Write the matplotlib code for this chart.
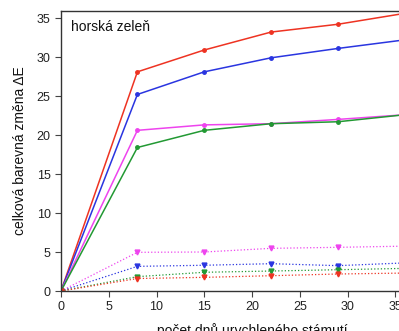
import matplotlib
matplotlib.use("Agg")
import matplotlib.pyplot as plt

plt.rcParams['font.family'] = ['Liberation Sans', 'DejaVu Sans']

# days of accelerated ageing
days = [0, 8, 15, 22, 29, 36]

# total colour change dE (solid lines, circles)
red_solid = [0, 28.1, 30.9, 33.2, 34.2, 35.6]
blue_solid = [0, 25.2, 28.1, 29.9, 31.1, 32.2]
magenta_solid = [0, 20.6, 21.3, 21.45, 22.0, 22.6]
green_solid = [0, 18.4, 20.6, 21.45, 21.7, 22.6]

# dotted lines, down triangles
magenta_dot = [0, 4.96, 5.0, 5.47, 5.6, 5.75]
blue_dot = [0, 3.16, 3.3, 3.5, 3.25, 3.6]
green_dot = [0, 1.84, 2.4, 2.56, 2.73, 2.9]
red_dot = [0, 1.6, 1.75, 1.96, 2.18, 2.3]

colors = {'red': '#ee3322', 'blue': '#2a35e0', 'magenta': '#ee44ee', 'green': '#229933'}

fig = plt.figure(figsize=(3.99, 3.31), dpi=100)
ax = fig.add_axes([61/399, 40/331, 382/399, 280/331])

for vals, c in [(red_solid, 'red'), (blue_solid, 'blue'), (magenta_solid, 'magenta'), (green_solid, 'green')]:
    ax.plot(days, vals, '-', color=colors[c], lw=1.1, marker='o', ms=2.5)

for vals, c in [(magenta_dot, 'magenta'), (blue_dot, 'blue'), (green_dot, 'green'), (red_dot, 'red')]:
    ax.plot(days, vals, ':', color=colors[c], lw=0.9, marker='v', ms=3.5)

ax.set_xlim(0, 40)
ax.set_ylim(0, 35.9)
ax.set_xticks(range(0, 41, 5))
ax.set_yticks(range(0, 36, 5))
ax.tick_params(direction='out', length=4, width=0.8, labelsize=9, labelcolor='#222222', color='#444444')
for s in ['left', 'top', 'bottom']:
    ax.spines[s].set_color('#333333')
    ax.spines[s].set_linewidth(1.0)

ax.text(1.0, 33.8, 'horská zeleň', fontsize=10, va='center', ha='left', color='#111111')
ax.set_ylabel('celková barevná změna ΔE', fontsize=10, color='#111111', labelpad=7)
ax.set_xlabel('počet dnů urychleného stámutí', fontsize=10, color='#111111', labelpad=7)

fig.savefig('out.png', dpi=100)
